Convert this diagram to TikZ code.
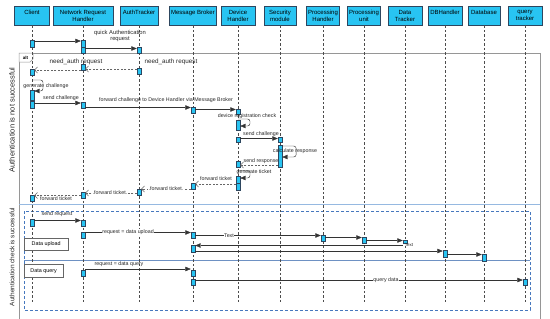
\documentclass[tikz,border=0pt]{standalone}
\usepackage{fontspec}
\setmainfont{Liberation Sans}
\usetikzlibrary{arrows.meta}
\definecolor{actfill}{RGB}{40,196,242}
\definecolor{actdraw}{RGB}{45,70,95}
\definecolor{framegray}{RGB}{150,150,150}
\definecolor{seplight}{RGB}{150,185,225}
\definecolor{dashblue}{RGB}{70,120,190}
\definecolor{solidblue}{RGB}{110,145,195}
\newcommand\actbox[4]{\node[act, minimum height=#4pt] (#1) at (#2,#3) {};}
\begin{document}
\begin{tikzpicture}[x=1pt,y=-1pt,
  head/.style={draw=actdraw, fill=actfill, line width=0.4pt, minimum height=19pt, inner sep=1pt, align=center, font=\fontsize{6}{6.6}\selectfont, anchor=north},
  life/.style={draw=black!70, line width=0.4pt, dash pattern=on 2.5pt off 2pt},
  act/.style={draw=actdraw, fill=actfill, line width=0.4pt, minimum width=4pt, inner sep=0pt, anchor=north},
  msg/.style={draw=black!80, line width=0.45pt, -{Triangle[length=5.5pt,width=4.5pt]}},
  ret/.style={draw=black!60, line width=0.45pt, dash pattern=on 2pt off 1.5pt, -{Straight Barb[length=3pt,width=6pt]}},
  selfmsg/.style={draw=black!80, line width=0.45pt, rounded corners=2.5pt, -{Triangle[length=5.5pt,width=4.5pt]}},
  lbl/.style={font=\fontsize{5.3}{6}\selectfont, inner sep=0.5pt, text=black!85},
  bigl/.style={font=\fontsize{6.3}{7}\selectfont, inner sep=0.5pt, text=black!85},
  wl/.style={lbl, fill=white},
  frag/.style={draw=black!60, fill=white, line width=0.4pt, font=\fontsize{5.4}{6}\selectfont, inner sep=0pt, anchor=north west}
]
\useasboundingbox (0,0) rectangle (550,319);

% combined fragment frame
\draw[framegray, line width=0.7pt] (19,319) -- (19,53) -- (540,53) -- (540,319);
\draw[framegray, line width=0.5pt, fill=white] (19,53) -- (33,53) -- (33,59) -- (30,62) -- (19,62) -- cycle;
\node[font=\bfseries\fontsize{4.5}{5}\selectfont, inner sep=0pt] (alttag) at (25.5,57.5) {alt};
\draw[seplight, line width=0.8pt] (19,204) -- (540,204);
\draw[dashblue, line width=0.9pt, dash pattern=on 3pt off 2pt] (24,211) rectangle (530,310);
\draw[solidblue, line width=1pt] (24,260.5) -- (530,260.5);

\node[rotate=90, font=\fontsize{7.5}{8}\selectfont, text=black!85] (guard1) at (12,120) {Authentication is not successful};
\node[rotate=90, font=\fontsize{6.5}{7}\selectfont, text=black!85] (guard2) at (12,257) {Authentication check is successful};

% headers
\node[head, minimum width=35pt] (hC)  at (32,6)  {Client\\~};
\node[head, minimum width=60pt] (hN)  at (83,6)  {Network Request\\Handler};
\node[head, minimum width=38pt] (hA)  at (139,6) {AuthTracker\\~};
\node[head, minimum width=47pt] (hM)  at (193,6) {Message Broker\\~};
\node[head, minimum width=34pt] (hD)  at (238,6) {Device\\Handler};
\node[head, minimum width=32pt] (hS)  at (280,6) {Security\\module};
\node[head, minimum width=33pt] (hP)  at (323,6) {Processing\\Handler};
\node[head, minimum width=33pt] (hU)  at (364,6) {Processing\\unit};
\node[head, minimum width=34pt] (hT)  at (405,6) {Data\\Tracker};
\node[head, minimum width=34pt] (hB)  at (445,6) {DBHandler\\~};
\node[head, minimum width=32pt] (hDB) at (484,6) {Database\\~};
\node[head, minimum width=34pt] (hQ)  at (525,6) {query\\tracker};

\foreach \h in {hC,hN,hA,hM,hD,hS,hP,hU,hT,hB,hDB,hQ}
  \draw[life] (\h.south) -- (\h.south |- 0,303);

% fragment labels
\node[frag, minimum width=44pt, minimum height=12pt] (fup) at (24,238) {Data upload};
\node[frag, minimum width=39pt, minimum height=13pt] (fq)  at (24,264) {Data query};

% activations
\actbox{c1}{32}{40}{7}
\actbox{c2}{32}{69}{6}
\actbox{c3}{32}{90}{10}
\actbox{c4}{32}{101}{7}
\actbox{c5}{32}{195}{6}
\actbox{c6}{32}{219}{7}
\actbox{n1}{83}{40}{7}
\actbox{n2}{83}{47}{6}
\actbox{n3}{83}{64}{6}
\actbox{n4}{83}{102}{6}
\actbox{n5}{83}{192}{6}
\actbox{n6}{83}{220}{6}
\actbox{n7}{83}{232}{6}
\actbox{n8}{83}{270}{6}
\actbox{a1}{139}{47}{6}
\actbox{a2}{139}{68}{6}
\actbox{a3}{139}{189}{5.5}
\actbox{m1}{193}{107}{6}
\actbox{m2}{193}{183}{6}
\actbox{m3}{193}{232}{6}
\actbox{m4}{193}{245}{7}
\actbox{m5}{193}{270}{6}
\actbox{m6}{193}{279}{6}
\actbox{d1}{238}{109}{5}
\actbox{d2}{238}{120}{10}
\actbox{d3}{238}{137}{5}
\actbox{d4}{238}{161}{6}
\actbox{d5}{238}{176}{7}
\actbox{d6}{238}{183}{7}
\actbox{s1}{280}{137}{5}
\actbox{s2}{280}{145}{22}
\actbox{p1}{323}{235}{6}
\actbox{u1}{364}{237}{6}
\actbox{t1}{405}{240}{2.5}
\actbox{b1}{445}{250}{7}
\actbox{db1}{484}{254}{7}
\actbox{q1}{525}{279}{6}

% first request
\draw[msg] (c1.east |- 0,41) -- (n1.west |- 0,41);
\draw[msg] (n2.east |- 0,48.5) -- (a1.west |- 0,48.5);
\node[lbl, align=center, font=\fontsize{5.8}{6.6}\selectfont] (l1) at (120,36) {quick Authentication\\request};

% not successful
\draw[ret] (a2.west |- 0,69) -- (n3.east |- 0,69);
\node[bigl] (l2) at (171,62) {need\_auth request};
\draw[ret] (n3.west |- 0,70) -- (c2.east |- 0,70);
\node[bigl] (l3) at (76,62) {need\_auth request};

\draw[selfmsg] (c2.south |- 0,80) -- ++(11,0) |- (c3.east |- 0,91);
\node[lbl] (l4) at (46,86.5) {generate challenge};

\draw[msg] (c4.east |- 0,103) -- (n4.west |- 0,103);
\node[lbl] (l5) at (61,98) {send challenge};

\draw[msg] (n4.east |- 0,107.5) -- (m1.west |- 0,107.5);
\draw[msg] (m1.east |- 0,109.5) -- (d1.west |- 0,109.5);
\node[lbl] (l6) at (166,100.5) {forward challenge to Device Handler via Message Broker};

\draw[selfmsg] (d1.south |- 0,119) -- ++(12,0) |- (d2.east |- 0,126);
\node[lbl] (l7) at (247,116) {device registration check};

\draw[msg] (d3.east |- 0,138.5) -- (s1.west |- 0,138.5);
\node[lbl] (l8) at (261,134.5) {send challenge};

\draw[selfmsg] (s2.east |- 0,146) -- ++(14,0) |- (s2.east |- 0,157);
\node[lbl] (l9) at (295,151) {calculate response};

\draw[ret] (s2.west |- 0,165) -- (d4.east |- 0,165);
\node[lbl] (l10) at (261,161.5) {send response};

\draw[selfmsg] (d4.south |- 0,170.5) -- ++(12,0) |- (d5.east |- 0,178);
\node[lbl] (l11) at (254,172.5) {generate ticket};

\draw[ret] (d6.west |- 0,184) -- (m2.east |- 0,184);
\node[lbl] (l12) at (216,179) {forward ticket};
\draw[ret] (m2.west |- 0,189) -- (a3.east |- 0,189);
\node[wl] (l13) at (166,188.5) {.forward ticket.};
\draw[ret] (a3.west |- 0,193) -- (n5.east |- 0,193);
\node[wl] (l14) at (110,192.5) {.forward ticket.};
\draw[ret] (n5.west |- 0,195.5) -- (c5.east |- 0,195.5);
\node[lbl] (l15) at (56,199) {forward ticket};

% successful
\draw[msg] (c6.east |- 0,220.5) -- (n6.west |- 0,220.5);
\node[lbl] (l16) at (57,214.5) {send request};

\draw[msg] (n7.east |- 0,232.5) -- (m3.west |- 0,232.5);
\node[wl] (l17) at (128,232) {request = data upload};
\draw[msg] (m3.east |- 0,235.5) -- (p1.west |- 0,235.5);
\node[wl] (l18) at (229,235.5) {Text};
\draw[msg] (p1.east |- 0,237.5) -- (u1.west |- 0,237.5);
\draw[msg] (u1.east |- 0,240.5) -- (t1.west |- 0,240.5);
\node[lbl, font=\fontsize{4.5}{5}\selectfont] (l19) at (409,245) {Text};
\draw[msg] (t1.west |- 0,245.5) -- (m4.east |- 0,245.5);
\draw[msg] (m4.east |- 0,251) -- (b1.west |- 0,251);
\draw[msg] (b1.east |- 0,254.5) -- (db1.west |- 0,254.5);

\draw[msg] (n8.east |- 0,269) -- (m5.west |- 0,269);
\node[lbl] (l20) at (119,264.5) {request = data query};
\draw[msg] (m6.east |- 0,280) -- (q1.west |- 0,280);
\node[wl] (l21) at (386,280) {query data};
\end{tikzpicture}
\end{document}
